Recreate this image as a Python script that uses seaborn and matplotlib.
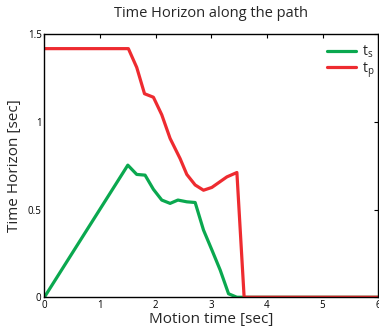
import numpy as np
import pandas as pd
import matplotlib
matplotlib.use("Agg")
import matplotlib.pyplot as plt
import seaborn as sns

ts_time = [0, 1.50, 1.66, 1.81, 1.96, 2.11, 2.26, 2.40, 2.56, 2.71, 2.86, 3.01, 3.16, 3.31, 3.46, 6.0]
ts_vals = [0, 0.753, 0.70, 0.696, 0.615, 0.554, 0.535, 0.554, 0.544, 0.54, 0.383, 0.27, 0.155, 0.02, 0.0, 0.0]
tp_time = [0, 1.51, 1.66, 1.80, 1.96, 2.11, 2.26, 2.44, 2.56, 2.71, 2.86, 3.01, 3.28, 3.46, 3.59, 6.0]
tp_vals = [1.417, 1.417, 1.31, 1.16, 1.14, 1.04, 0.905, 0.79, 0.70, 0.64, 0.61, 0.626, 0.686, 0.711, 0.0, 0.0]
series_labels = ["$\\mathregular{t_s}$", "$\\mathregular{t_p}$"]
xticks = [0, 1, 2, 3, 4, 5, 6]
yticks = [0, 0.5, 1, 1.5]
ytick_labels = ["0", "0.5", "1", "1.5"]

df = pd.concat([
    pd.DataFrame({"t": ts_time, "v": ts_vals, "s": series_labels[0]}),
    pd.DataFrame({"t": tp_time, "v": tp_vals, "s": series_labels[1]}),
])

sns.set_style("white")
plt.rcParams['font.family'] = ['Open Sans', 'DejaVu Sans']

fig = plt.figure(figsize=(3.79, 3.34), dpi=100)
ax = fig.add_axes([0.117, 0.110, 0.881, 0.788])
sns.lineplot(data=df, x="t", y="v", hue="s", sort=False, estimator=None,
             palette=["#0aa84f", "#ee2b30"], linewidth=2.3, ax=ax)
ax.set_xlim(0, 6)
ax.set_ylim(0, 1.5)
ax.set_xticks(xticks)
ax.set_xticklabels([str(x) for x in xticks], fontsize=7)
ax.set_yticks(yticks)
ax.set_yticklabels(ytick_labels, fontsize=7)
ax.tick_params(direction="in", length=3, width=0.8, top=True, right=True, pad=2, colors="black")
for sp in ax.spines.values():
    sp.set_color("black")
    sp.set_linewidth(1.0)
ax.set_xlabel("Motion time [sec]", fontsize=11, labelpad=1)
ax.set_ylabel("Time Horizon [sec]", fontsize=11, labelpad=4)
ax.set_title("Time Horizon along the path", fontsize=10.5, pad=12)
leg = ax.legend(loc="upper right", frameon=False, fontsize=10, handlelength=2.1,
                bbox_to_anchor=(1.005, 0.985), borderaxespad=0.0, labelspacing=0.0,
                handletextpad=0.4)
fig.savefig("out.png", dpi=100)
